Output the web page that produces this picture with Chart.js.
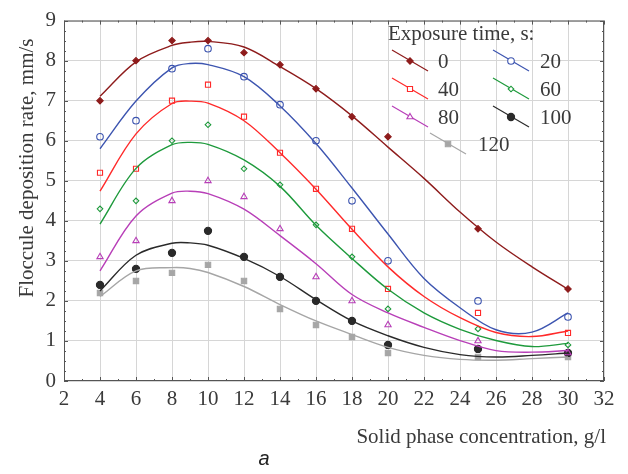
<!DOCTYPE html>
<html>
<head>
<meta charset="utf-8">
<script src="https://cdn.jsdelivr.net/npm/chart.js@4.4.1/dist/chart.umd.min.js"></script>
<style>
  html, body { margin: 0; padding: 0; background: #fff; }
  #wrap { width: 628px; height: 474px; position: relative; }
</style>
</head>
<body>
<div id="wrap"><canvas id="chart" width="628" height="474"></canvas></div>
<script>
// ——— DATA ———
const concX = [4, 6, 8, 10, 12, 14, 16, 18, 20, 25, 30];
const labels = ['0', '20', '40', '60', '80', '100', '120'];
const pts0   = [7.0, 8.0, 8.5, 8.5, 8.2, 7.9, 7.3, 6.6, 6.1, 3.8, 2.3];
const pts20  = [6.1, 6.5, 7.8, 8.3, 7.6, 6.9, 6.0, 4.5, 3.0, 2.0, 1.6];
const pts40  = [5.2, 5.3, 7.0, 7.4, 6.6, 5.7, 4.8, 3.8, 2.3, 1.7, 1.2];
const pts60  = [4.3, 4.5, 6.0, 6.4, 5.3, 4.9, 3.9, 3.1, 1.8, 1.3, 0.9];
const pts80  = [3.1, 3.5, 4.5, 5.0, 4.6, 3.8, 2.6, 2.0, 1.4, 1.0, 0.7];
const pts100 = [2.4, 2.8, 3.2, 3.75, 3.1, 2.6, 2.0, 1.5, 0.9, 0.8, 0.7];
const pts120 = [2.2, 2.5, 2.7, 2.9, 2.5, 1.8, 1.4, 1.1, 0.7, 0.6, 0.6];

// fitted curves
const fitX   = [4, 6, 8, 9, 10, 12, 14, 16, 18, 20, 22, 24, 26, 28, 30];
const fit0   = [7.11, 7.97, 8.38, 8.46, 8.48, 8.34, 7.85, 7.30, 6.62, 5.84, 5.06, 4.22, 3.47, 2.85, 2.29];
const fit20  = [5.80, 6.99, 7.82, 7.93, 7.90, 7.60, 6.87, 5.93, 4.82, 3.67, 2.56, 1.83, 1.28, 1.22, 1.70];
const fit40  = [4.74, 6.17, 6.93, 6.99, 6.94, 6.50, 5.70, 4.79, 3.79, 2.85, 2.11, 1.58, 1.21, 1.11, 1.25];
const fit60  = [3.92, 5.31, 5.90, 5.96, 5.91, 5.52, 4.86, 3.89, 3.06, 2.29, 1.70, 1.29, 1.01, 0.86, 0.94];
const fit80  = [2.75, 4.12, 4.69, 4.74, 4.68, 4.29, 3.63, 2.93, 2.16, 1.70, 1.34, 1.01, 0.76, 0.72, 0.76];
const fit100 = [2.25, 3.14, 3.44, 3.45, 3.39, 3.06, 2.61, 2.03, 1.50, 1.13, 0.84, 0.66, 0.60, 0.64, 0.70];
const fit120 = [2.11, 2.75, 2.83, 2.81, 2.71, 2.36, 1.91, 1.50, 1.16, 0.84, 0.64, 0.54, 0.52, 0.56, 0.60];

const xTicks = [2, 4, 6, 8, 10, 12, 14, 16, 18, 20, 22, 24, 26, 28, 30, 32];

// ——— STYLES ———
const styles = [
  { color: '#8e1c1c', point: 'rectRot',  radius: 3.2, fill: true },
  { color: '#3d55b0', point: 'circle',   radius: 3.3, fill: false },
  { color: '#ff2a2a', point: 'rect',     radius: 3.6, fill: false },
  { color: '#1e9a3c', point: 'rectRot',  radius: 2.8, fill: false },
  { color: '#b83fb8', point: 'triangle', radius: 3.6, fill: false },
  { color: '#2a2a2a', point: 'circle',   radius: 3.6, fill: true },
  { color: '#a6a6a6', point: 'rect',     radius: 3.8, fill: true }
];
const ptsAll = [pts0, pts20, pts40, pts60, pts80, pts100, pts120];
const fitAll = [fit0, fit20, fit40, fit60, fit80, fit100, fit120];

const datasets = [];
fitAll.forEach((f, i) => {
  datasets.push({
    label: labels[i] + ' fit',
    data: fitX.map((x, j) => ({ x, y: f[j] })),
    showLine: true,
    borderColor: styles[i].color,
    borderWidth: 1.4,
    pointRadius: 0,
    tension: 0.35,
    fill: false
  });
});
ptsAll.forEach((p, i) => {
  const s = styles[i];
  datasets.push({
    label: labels[i],
    data: concX.map((x, j) => ({ x, y: p[j] })),
    showLine: false,
    pointStyle: s.point,
    pointRadius: s.radius,
    pointBorderWidth: 1.1,
    pointBorderColor: s.color,
    pointBackgroundColor: s.fill ? s.color : 'rgba(0,0,0,0)'
  });
});

const SERIF = '"Liberation Serif", "DejaVu Serif", serif';
const TXT = '#3a3a3a';

// ——— FRAME, TICKS, LEGEND, TITLES ———
const decor = {
  id: 'decor',
  afterDraw(chart) {
    const ctx = chart.ctx;
    const a = chart.chartArea;
    const xs = chart.scales.x, ys = chart.scales.y;
    ctx.save();
    ctx.strokeStyle = '#555';
    ctx.lineWidth = 1;
    ctx.strokeRect(a.left + 0.5, a.top + 0.5, a.right - a.left - 1, a.bottom - a.top - 1);
    // inner ticks
    ctx.beginPath();
    for (let v = 2; v <= 32; v += 1) {
      const px = Math.round(xs.getPixelForValue(v)) + 0.5;
      const len = v % 2 === 0 ? 4 : 2;
      ctx.moveTo(px, a.bottom); ctx.lineTo(px, a.bottom - len);
      ctx.moveTo(px, a.top); ctx.lineTo(px, a.top + len);
    }
    for (let v = 0; v <= 9; v += 0.25) {
      const py = Math.round(ys.getPixelForValue(v)) + 0.5;
      const len = Number.isInteger(v) ? 4 : 2;
      ctx.moveTo(a.left, py); ctx.lineTo(a.left + len, py);
      ctx.moveTo(a.right, py); ctx.lineTo(a.right - len, py);
    }
    ctx.stroke();

    // legend
    ctx.fillStyle = TXT;
    ctx.font = '21px ' + SERIF;
    ctx.textBaseline = 'alphabetic';
    ctx.textAlign = 'left';
    ctx.fillText('Exposure time, s:', 388, 40);
    const slots = [
      [410, 61, 438], [511, 61, 540],
      [410, 89, 438], [511, 89, 540],
      [410, 117, 438], [511, 117, 540],
      [448, 144, 478]
    ];
    slots.forEach((sl, i) => {
      const s = styles[i];
      const [mx, my, tx] = sl;
      ctx.strokeStyle = s.color;
      ctx.lineWidth = 1.2;
      ctx.beginPath();
      ctx.moveTo(mx - 18, my - 11);
      ctx.lineTo(mx + 18, my + 10);
      ctx.stroke();
      ctx.fillStyle = s.fill ? s.color : '#fff';
      ctx.lineWidth = 1.1;
      Chart.helpers.drawPoint(ctx, { pointStyle: s.point, radius: s.radius, rotation: 0, borderWidth: 1.1 }, mx, my);
      ctx.fillStyle = TXT;
      ctx.font = '21px ' + SERIF;
      ctx.textBaseline = 'middle';
      ctx.fillText(labels[i], tx, my + 1);
    });

    // axis titles
    ctx.fillStyle = TXT;
    ctx.font = '21px ' + SERIF;
    ctx.textAlign = 'right';
    ctx.textBaseline = 'middle';
    ctx.fillText('Solid phase concentration, g/l', 606, 437);
    ctx.save();
    ctx.translate(27, 168);
    ctx.rotate(-Math.PI / 2);
    ctx.textAlign = 'center';
    ctx.fillText('Floccule deposition rate, mm/s', 0, 0);
    ctx.restore();
    ctx.font = 'italic 20px "Liberation Sans", Arial, sans-serif';
    ctx.fillStyle = '#222';
    ctx.textAlign = 'center';
    ctx.fillText('a', 264, 459);
    ctx.restore();
  }
};

new Chart(document.getElementById('chart').getContext('2d'), {
  type: 'scatter',
  data: { datasets },
  options: {
    responsive: false,
    animation: false,
    devicePixelRatio: 1,
    layout: { padding: { left: 0, right: 24, top: 15, bottom: 0 } },
    plugins: { legend: { display: false }, tooltip: { enabled: false } },
    scales: {
      x: {
        type: 'linear', min: 2, max: 32,
        afterBuildTicks: s => { s.ticks = xTicks.map(v => ({ value: v })); },
        afterFit: s => { s.height = 93; },
        grid: { color: '#d6d6d6', lineWidth: 1, drawTicks: false },
        border: { display: false },
        ticks: { color: TXT, font: { family: SERIF, size: 21 }, padding: 6, maxRotation: 0, autoSkip: false }
      },
      y: {
        min: 0, max: 9,
        afterFit: s => { s.width = 64; },
        grid: { color: '#d6d6d6', lineWidth: 1, drawTicks: false },
        border: { display: false },
        ticks: { stepSize: 1, color: TXT, font: { family: SERIF, size: 21 }, padding: 8 }
      }
    }
  },
  plugins: [decor]
});
</script>
</body>
</html>
